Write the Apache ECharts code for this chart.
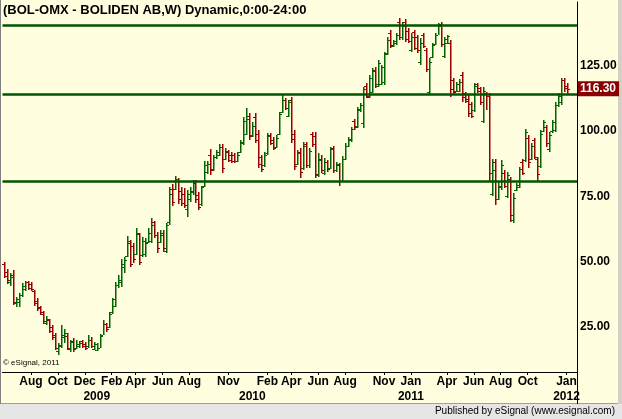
<!DOCTYPE html>
<html><head><meta charset="utf-8">
<script src="https://cdn.jsdelivr.net/npm/echarts@6/dist/echarts.min.js"></script>
<style>html,body{margin:0;padding:0;background:#fff}#c{width:622px;height:419px}</style>
</head><body><div id="c"></div>
<script>
// ---- data (weekly bars, first bar week ending 2008-05-30) ----
const startWeek = '2008-05-30';
const weekCount = 192; // 189 bars + 3 empty weeks at the right edge
const opens = [49,46,42,45,34,34.5,37,39.5,42,41.5,38.5,35,32.5,30,26.5,27.5,25,22,15.5,18,21,21.5,16.5,19.5,17,17.5,19.5,18.5,17.5,20,16.5,16.2,17,22,26,25,30.5,33,41,42,48,52,57,56,53,60.5,52.5,53,57.5,58,65,60,57.5,61,54,65,78,78,81,77,76,70,74,76.5,80,75.5,72,79,84.5,91,85.5,90,91,94,89.5,92,91,91,88.5,92,95.5,99,106,98.5,105.5,99,90,87,91.5,98.5,96.5,94,99,107.5,112,106,112,99,87.5,92,86,95,87,99,98,83,89.5,84,88,86,93.5,85,87,81,89.5,94.5,96.5,104,102,108,103,117.5,113,115,123.5,118,118,119,130,137.5,132.5,134,142,136,142,138.5,131,138,136,126.5,137,131,115,128.5,133.5,137,141,129,134,134,119.5,115.5,115.5,121.5,114.5,112.5,110.5,108,118,116.5,104,114.5,113.5,76,88,74,78.5,84,75,81.5,66,77.5,78.5,88,89,97.5,89.5,96.5,89.5,86.5,100,101.5,93,100,100.5,110,111,119.5,117.5];
const highs = [50,47,45.6,46.7,36.5,38,41.7,42.6,42.6,42,39,36,33,31,29,28,25.7,22.6,18.7,25.7,24,22.6,20,20.7,20,19.5,20,19.3,21.8,21,19,18.7,22.2,27.6,26.4,30.6,36,42,44.8,51,51.7,59.8,58.3,57.1,62.9,61,59.4,59,62.9,66.7,65.5,61.3,62.1,62.1,64.8,78.6,79.7,82.8,82,78.6,78.2,77.4,78.6,81.3,81.3,76.7,79,88.6,88.6,93.2,90.9,92.8,95.1,95.1,93.5,92.8,92,91.6,92,96.6,105.4,108.9,107,103.5,107,100.5,91,92,99.3,99.3,97.8,98.5,107.4,113.9,112.7,112,113.1,100.5,92.8,93.5,96,96,93.5,99.8,99.8,91.6,90.9,89.7,88.9,94,94.3,88.3,87.9,90.5,95.5,97.9,101.7,104.7,109.4,110.8,117,118.4,121.5,124.1,124.7,127.3,125.4,130.4,136.1,138.8,135,137.7,143.4,141.9,143,139.6,137.7,138.8,137,135.7,137.7,131.9,128,133.8,137.7,141.5,141.9,136.1,137,135,120.4,118.9,120,122.8,115.1,113.9,111.3,118.6,118.5,117,117,115.1,114.5,89.3,89.3,80.6,88.9,85,84.5,82.5,76.2,80,86.4,89.3,100.7,98.5,95.4,97.3,90.2,100.5,104.3,102.4,99.8,104.3,111.3,114.5,120.3,120.3,118.4];
const lows = [43.6,41.5,40.5,33.3,32.6,32.6,36.4,38.5,39,38.5,33,31,29.6,26,25.7,22.6,20,16,14.3,17,18.7,16,15.3,15.3,16.5,17,16.8,16,17,17,16,15.7,17,21.8,23,24.5,30,32.4,40,40.3,45.6,51.7,47.9,49.4,52.5,48.7,51.7,51.7,57.1,57.1,59,53.3,57.1,53.7,53.3,64,71.3,77.4,72.1,71.3,70.5,67.1,72.8,75.5,72.5,69.8,71.3,78.6,83.6,83.2,84.7,89.3,90.5,84,88.9,88.2,87.8,87.8,88,91.5,94.7,98.5,96.6,97.8,95.5,86,84.3,86.3,91,94.7,92.8,93.5,98.5,107,108,105.4,95.5,85,87,82,85.1,85.9,86,94.1,82,82.4,84,83.2,84.3,85.5,84,84.5,79,80.6,88.9,94.1,96,100.5,101.2,107.5,101.2,112.6,112.6,114.5,116.4,117,117.7,117.7,129.3,131.9,132.3,133,135,135,134.2,133.8,130.4,131.1,130,125.4,131.9,122.7,114,128,133,136.9,132.3,128,133.5,113.1,114,115,115,111.2,110.7,105.6,105,107.5,114.6,110,103,108.1,80.6,75.1,71.7,73.6,77.4,78.2,74.3,65.3,64.9,77,78.1,83.2,88.3,85.8,88.9,89.3,80.6,85.8,99.8,94.1,92.1,99.2,99.8,109.4,110,115.2,113.9];
const closes = [44.4,43,44,34.5,35.5,37,40.5,42,40,39.5,34,32,30.5,27,28,23.5,21,17,17.5,22,22.5,17,19,16.5,18.5,18.7,17.5,16.8,20,17.5,18.5,17,21.5,26,24,30,35.5,41,43,49,50.5,58,49,51,61,50,58,57,61,64,60,55,60,55,64,76,73,81.5,74,72.5,71.5,76,77,80,74,71,78.5,87,87.5,85,90,92,94,86,92.5,89,88.5,88.5,91,96,104,104.5,98,102,96.5,87.5,85.5,91,98,95.5,93.5,97.5,106.5,112,109,111,97,86.5,91.5,84.5,94.5,87,92.5,95,83.5,89,85,88,85.5,93,85,87.5,81,89.5,94.5,97,101,101.5,108.5,110,116,113.5,120.5,123,117.5,126,124.5,129.5,135,133,134.5,137,136,140.5,135.5,134.5,136,132,131,134,132.5,124,126.5,133,137,140.5,133.5,135.5,136.5,116,115,118,119,113,111.5,107,106,117.5,115.5,111,115.5,113.5,84,85,74,79,87,79,83,68,74.5,79.5,85.5,84,99.5,88,94.5,90,83.5,99,103.5,95.5,98.5,103.5,110,113.5,119.5,116.5,116.3];
const levels = [140.8, 114.0, 80.6];
const yTicks = [25, 50, 75, 100, 125];
const monthLabels = ['2008-08','2008-10','2008-12','2009-02','2009-04','2009-06','2009-08','2009-11','2010-02','2010-04','2010-06','2010-08','2010-11','2011-01','2011-04','2011-06','2011-08','2011-10','2012-01'];
const yearLabels = ['2009','2010','2011','2012'];
const monthNames = ['Jan','Feb','Mar','Apr','May','Jun','Jul','Aug','Sep','Oct','Nov','Dec'];
const titleText = '(BOL-OMX - BOLIDEN AB,W) Dynamic,0:00-24:00';

// ---- build ----
const categories = [];
{
  let t = Date.parse(startWeek + 'T00:00:00Z');
  for (let i = 0; i < weekCount; i++) { categories.push(new Date(t).toISOString().slice(0,10)); t += 7*86400000; }
}
function firstIndexOf(prefix){ return categories.findIndex(c => c.startsWith(prefix)); }
const monthIdx = new Set(monthLabels.map(firstIndexOf));
const yearIdx = new Set(yearLabels.map(y => firstIndexOf(y + '-01')));
const bars = opens.map((o,i) => [i, o, highs[i], lows[i], closes[i]]);
const lastClose = closes[closes.length - 1];

const GREEN = '#006400', RED = '#990000', LINE = '#005500';
const FONT = '"Liberation Sans", Arial, sans-serif';

const chart = echarts.init(document.getElementById('c'), null, {renderer:'canvas'});
chart.setOption({
  backgroundColor: '#ffffe0',
  animation: false,
  title: { text: titleText, left: 3, top: 4, padding: 0,
    textStyle: { fontSize: 13, fontWeight: 'bold', color: '#000', fontFamily: FONT } },
  grid: { left: 2.5, right: 45, top: 2, bottom: 47 },
  xAxis: [{
    type: 'category', data: categories, boundaryGap: true,
    axisLine: { lineStyle: { color: '#000', width: 1 } },
    axisTick: { show: true, length: 3, interval: (i) => monthIdx.has(i), alignWithLabel: true, lineStyle:{color:'#000'} },
    axisLabel: { interval: (i) => monthIdx.has(i), margin: 4, fontSize: 12, fontWeight: 'bold', color: '#000', fontFamily: FONT,
      formatter: (v) => monthNames[parseInt(v.slice(5,7),10)-1] },
    splitLine: { show: false }
  },{
    type: 'category', data: categories, boundaryGap: true, position: 'bottom', offset: 15,
    axisLine: { show: false }, axisTick: { show: false },
    axisLabel: { interval: (i) => yearIdx.has(i), margin: 4, fontSize: 12, fontWeight: 'bold', color: '#000', fontFamily: FONT,
      formatter: (v) => v.slice(0,4) }
  }],
  yAxis: {
    type: 'value', position: 'right', min: 7.62, max: 149.55, scale: true,
    axisLine: { show: true, lineStyle: { color: '#000', width: 1 } },
    axisTick: { show: false },
    axisLabel: { customValues: yTicks, margin: 3, fontSize: 12, fontWeight: 'bold', color: '#000', fontFamily: FONT,
      formatter: (v) => v.toFixed(2) },
    splitLine: { show: false }
  },
  series: [{
    type: 'custom', xAxisIndex: 0,
    data: bars,
    encode: { x: 0, y: [1,2,3,4] },
    renderItem: function (params, api) {
      const idx = api.value(0);
      const o = api.coord([idx, api.value(1)]);
      const h = api.coord([idx, api.value(2)]);
      const l = api.coord([idx, api.value(3)]);
      const c = api.coord([idx, api.value(4)]);
      const color = api.value(4) >= api.value(1) ? GREEN : RED;
      const X = Math.round(h[0]);
      return { type: 'group', children: [
        { type: 'rect', shape: { x: X, y: Math.round(h[1]), width: 1.5, height: Math.max(1, Math.round(l[1]) - Math.round(h[1])) }, style: { fill: color } },
        { type: 'rect', shape: { x: X-2, y: Math.round(o[1]), width: 2, height: 1 }, style: { fill: color } },
        { type: 'rect', shape: { x: X+1, y: Math.round(c[1]), width: 2, height: 1 }, style: { fill: color } }
      ]};
    }
  },{
    type: 'line', data: [], silent: true,
    markLine: {
      silent: true, symbol: 'none', animation: false,
      data: levels.map(v => ({ yAxis: v, lineStyle: { color: LINE, width: 2.5, type: 'solid' }, label: { show: false } }))
    }
  },{
    type: 'line', data: [], silent: true,
    markLine: {
      silent: true, symbol: 'none', animation: false,
      lineStyle: { color: 'rgba(0,0,0,0)', width: 0 },
      label: { show: true, position: 'end', distance: 1, formatter: (p) => Number(p.value).toFixed(2),
        backgroundColor: '#8b0000', color: '#fff', fontSize: 12, fontWeight: 'bold', fontFamily: FONT, padding: [2, 3, 1, 2] },
      data: [{ yAxis: lastClose }]
    }
  }],
  graphic: [
    { type: 'rect', shape: { x: 0, y: 404, width: 622, height: 15 }, style: { fill: '#e6e6e6' }, silent: true },
    { type: 'line', shape: { x1: 0, y1: 403.5, x2: 622, y2: 403.5 }, style: { stroke: '#a0a0a0', lineWidth: 1 } },
    { type: 'rect', shape: { x: 618, y: 0, width: 4, height: 404 }, style: { fill: '#d4d0c8' } },
    { type: 'line', shape: { x1: 0.5, y1: 0, x2: 0.5, y2: 404 }, style: { stroke: '#808080', lineWidth: 1 } },
    { type: 'line', shape: { x1: 577.5, y1: 372, x2: 577.5, y2: 404 }, style: { stroke: '#000', lineWidth: 1 } },
    { type: 'text', left: 3, top: 359, style: { text: '\u00a9 eSignal, 2011', fontSize: 8, fill: '#000', fontFamily: FONT } },
    { type: 'text', right: 7, top: 406, style: { text: 'Published by eSignal (www.esignal.com)', fontSize: 10, fill: '#000', fontFamily: FONT } }
  ]
});
</script></body></html>
